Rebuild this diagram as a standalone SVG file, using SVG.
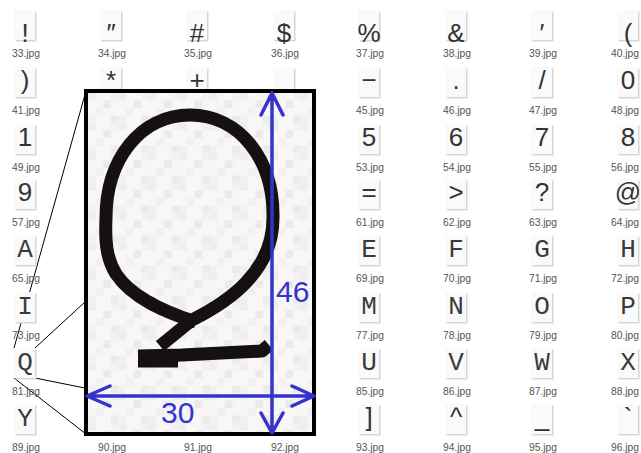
<svg xmlns="http://www.w3.org/2000/svg" width="641" height="453" viewBox="0 0 641 453">
<style>
.sh{fill:#d6d6d6}
.tb{fill:#fafafa}
.g{font-family:"Liberation Sans",Arial,sans-serif;font-size:26px;fill:#333;text-anchor:middle}
.gl{font-family:"Liberation Mono","Courier New",monospace;font-size:26px;fill:#3a3a3a;text-anchor:middle}
.lb{font-family:"Liberation Sans",Arial,sans-serif;font-size:10.3px;fill:#555;text-anchor:middle}
.zl{stroke:#000;stroke-width:1;fill:none}
.ar{stroke:#3434cc;stroke-width:3.5;fill:none;stroke-linecap:round;stroke-linejoin:round}
.dim{font-family:"Liberation Sans",Arial,sans-serif;font-size:30px;fill:#3434cc}
.q{stroke:#151111;stroke-width:13;fill:none;stroke-linejoin:round}
</style>
<defs>
<g id="th"><rect class="sh" x="-9.5" y="1.5" width="21" height="30"/><rect class="tb" x="-11" y="0" width="21" height="30"/></g>
<pattern id="noise" x="88" y="93" width="30.4" height="30" patternUnits="userSpaceOnUse">
<rect width="30.4" height="30" fill="#f8f6f6"/>
<rect x="0" y="0" width="7.6" height="7.5" fill="#efeded"/>
<rect x="15.2" y="7.5" width="7.6" height="7.5" fill="#ebe9e9"/>
<rect x="7.6" y="15" width="7.6" height="7.5" fill="#f1efef"/>
<rect x="22.8" y="22.5" width="7.6" height="7.5" fill="#ecebeb"/>
<rect x="22.8" y="0" width="7.6" height="7.5" fill="#f3f2f2"/>
<rect x="0" y="22.5" width="7.6" height="7.5" fill="#f2f0f0"/>
</pattern>
</defs>
<rect width="641" height="453" fill="#fff"/>

<g id="connectors">
<line class="zl" x1="14" y1="348" x2="86" y2="91"/>
<line class="zl" x1="35" y1="348" x2="314" y2="91"/>
<line class="zl" x1="35" y1="378" x2="314" y2="434"/>
<line class="zl" x1="14" y1="378" x2="86" y2="434"/>
</g>

<g id="thumbnails">
<g id="t33" transform="translate(25,10)"><use href="#th"/><text class="g" x="0" y="32">!</text><text class="lb" x="1" y="47">33.jpg</text></g>
<g id="t34" transform="translate(111,10)"><use href="#th"/><text class="g" x="0" y="32">″</text><text class="lb" x="1" y="47">34.jpg</text></g>
<g id="t35" transform="translate(197,10)"><use href="#th"/><text class="g" x="0" y="32">#</text><text class="lb" x="1" y="47">35.jpg</text></g>
<g id="t36" transform="translate(284,10)"><use href="#th"/><text class="g" x="0" y="32">$</text><text class="lb" x="1" y="47">36.jpg</text></g>
<g id="t37" transform="translate(369,10)"><use href="#th"/><text class="g" x="0" y="32">%</text><text class="lb" x="1" y="47">37.jpg</text></g>
<g id="t38" transform="translate(456,10)"><use href="#th"/><text class="g" x="0" y="32">&amp;</text><text class="lb" x="1" y="47">38.jpg</text></g>
<g id="t39" transform="translate(542,10)"><use href="#th"/><text class="g" x="0" y="32">′</text><text class="lb" x="1" y="47">39.jpg</text></g>
<g id="t40" transform="translate(628,10)"><use href="#th"/><text class="g" x="0" y="32">(</text><text class="lb" x="-3" y="47">40.jpg</text></g>

<g id="t41" transform="translate(25,67)"><use href="#th"/><text class="g" x="0" y="22">)</text><text class="lb" x="1" y="47">41.jpg</text></g>
<g id="t42" transform="translate(111,67)"><use href="#th"/><text class="g" x="0" y="22">*</text></g>
<g id="t43" transform="translate(197,67)"><use href="#th"/><text class="g" x="0" y="22">+</text></g>
<g id="t44" transform="translate(284,67)"><use href="#th"/><text class="g" x="0" y="26">,</text></g>
<g id="t45" transform="translate(369,67)"><use href="#th"/><text class="g" x="0" y="22">−</text><text class="lb" x="1" y="47">45.jpg</text></g>
<g id="t46" transform="translate(456,67)"><use href="#th"/><text class="g" x="0" y="22">.</text><text class="lb" x="1" y="47">46.jpg</text></g>
<g id="t47" transform="translate(542,67)"><use href="#th"/><text class="g" x="0" y="22">/</text><text class="lb" x="1" y="47">47.jpg</text></g>
<g id="t48" transform="translate(628,67)"><use href="#th"/><text class="g" x="0" y="22">0</text><text class="lb" x="-3" y="47">48.jpg</text></g>

<g id="t49" transform="translate(25,124)"><use href="#th"/><text class="g" x="0" y="22">1</text><text class="lb" x="1" y="47">49.jpg</text></g>
<g id="t53" transform="translate(369,124)"><use href="#th"/><text class="g" x="0" y="22">5</text><text class="lb" x="1" y="47">53.jpg</text></g>
<g id="t54" transform="translate(456,124)"><use href="#th"/><text class="g" x="0" y="22">6</text><text class="lb" x="1" y="47">54.jpg</text></g>
<g id="t55" transform="translate(542,124)"><use href="#th"/><text class="g" x="0" y="22">7</text><text class="lb" x="1" y="47">55.jpg</text></g>
<g id="t56" transform="translate(628,124)"><use href="#th"/><text class="g" x="0" y="22">8</text><text class="lb" x="-3" y="47">56.jpg</text></g>

<g id="t57" transform="translate(25,179)"><use href="#th"/><text class="g" x="0" y="22">9</text><text class="lb" x="1" y="47">57.jpg</text></g>
<g id="t61" transform="translate(369,179)"><use href="#th"/><text class="g" x="0" y="22">=</text><text class="lb" x="1" y="47">61.jpg</text></g>
<g id="t62" transform="translate(456,179)"><use href="#th"/><text class="g" x="0" y="22">&gt;</text><text class="lb" x="1" y="47">62.jpg</text></g>
<g id="t63" transform="translate(542,179)"><use href="#th"/><text class="g" x="0" y="22">?</text><text class="lb" x="1" y="47">63.jpg</text></g>
<g id="t64" transform="translate(628,179)"><use href="#th"/><text class="g" x="0" y="22">@</text><text class="lb" x="-3" y="47">64.jpg</text></g>

<g id="t65" transform="translate(25,235)"><use href="#th"/><text class="gl" x="0" y="22">A</text><text class="lb" x="1" y="47">65.jpg</text></g>
<g id="t69" transform="translate(369,235)"><use href="#th"/><text class="gl" x="0" y="22">E</text><text class="lb" x="1" y="47">69.jpg</text></g>
<g id="t70" transform="translate(456,235)"><use href="#th"/><text class="gl" x="0" y="22">F</text><text class="lb" x="1" y="47">70.jpg</text></g>
<g id="t71" transform="translate(542,235)"><use href="#th"/><text class="gl" x="0" y="22">G</text><text class="lb" x="1" y="47">71.jpg</text></g>
<g id="t72" transform="translate(628,235)"><use href="#th"/><text class="gl" x="0" y="22">H</text><text class="lb" x="-3" y="47">72.jpg</text></g>

<g id="t73" transform="translate(25,292)"><use href="#th"/><text class="gl" x="0" y="22">I</text><text class="lb" x="1" y="47">73.jpg</text></g>
<g id="t77" transform="translate(369,292)"><use href="#th"/><text class="gl" x="0" y="22">M</text><text class="lb" x="1" y="47">77.jpg</text></g>
<g id="t78" transform="translate(456,292)"><use href="#th"/><text class="gl" x="0" y="22">N</text><text class="lb" x="1" y="47">78.jpg</text></g>
<g id="t79" transform="translate(542,292)"><use href="#th"/><text class="gl" x="0" y="22">O</text><text class="lb" x="1" y="47">79.jpg</text></g>
<g id="t80" transform="translate(628,292)"><use href="#th"/><text class="gl" x="0" y="22">P</text><text class="lb" x="-3" y="47">80.jpg</text></g>

<g id="t81" transform="translate(25,348)"><use href="#th"/><text class="gl" x="0" y="22">Q</text><text class="lb" x="1" y="47">81.jpg</text></g>
<g id="t85" transform="translate(369,348)"><use href="#th"/><text class="gl" x="0" y="22">U</text><text class="lb" x="1" y="47">85.jpg</text></g>
<g id="t86" transform="translate(456,348)"><use href="#th"/><text class="gl" x="0" y="22">V</text><text class="lb" x="1" y="47">86.jpg</text></g>
<g id="t87" transform="translate(542,348)"><use href="#th"/><text class="gl" x="0" y="22">W</text><text class="lb" x="1" y="47">87.jpg</text></g>
<g id="t88" transform="translate(628,348)"><use href="#th"/><text class="gl" x="0" y="22">X</text><text class="lb" x="-3" y="47">88.jpg</text></g>

<g id="t89" transform="translate(25,404)"><use href="#th"/><text class="gl" x="0" y="22">Y</text><text class="lb" x="1" y="47">89.jpg</text></g>
<g id="t90" transform="translate(111,404)"><text class="lb" x="1" y="47">90.jpg</text></g>
<g id="t91" transform="translate(197,404)"><text class="lb" x="1" y="47">91.jpg</text></g>
<g id="t92" transform="translate(284,404)"><text class="lb" x="1" y="47">92.jpg</text></g>
<g id="t93" transform="translate(369,404)"><use href="#th"/><text class="g" x="0" y="22">]</text><text class="lb" x="1" y="47">93.jpg</text></g>
<g id="t94" transform="translate(456,404)"><use href="#th"/><text class="g" x="0" y="22">^</text><text class="lb" x="1" y="47">94.jpg</text></g>
<g id="t95" transform="translate(542,404)"><use href="#th"/><text class="g" x="0" y="22">_</text><text class="lb" x="1" y="47">95.jpg</text></g>
<g id="t96" transform="translate(628,404)"><use href="#th"/><text class="g" x="0" y="22">`</text><text class="lb" x="-3" y="47">96.jpg</text></g>
</g>

<g id="magnified">
<rect x="86" y="91" width="228" height="343" fill="url(#noise)" stroke="#000" stroke-width="4"/>
<path class="q" d="M196 322 C165 312 132 298 116 274 C106 258 105 240 106 218 C106 160 140 115 190 115 C240 115 274 160 273 218 C273 272 228 302 192 320 L160 346"/>
<path class="q" d="M138 356 L182 355 L262 351 L269 345"/>
<path class="q" stroke-width="8" d="M138 361 L178 361"/>
</g>

<g id="dimensions">
<path class="ar" d="M272 93 L272 433 M261 115 L272 93 L283 115 M261 413 L272 433 L283 413"/>
<path class="ar" d="M87 396 L314 396 M110 386 L87 396 L110 406 M292 386 L314 396 L292 406"/>
<text class="dim" x="276" y="302">46</text>
<text class="dim" x="161" y="423">30</text>
</g>
</svg>
